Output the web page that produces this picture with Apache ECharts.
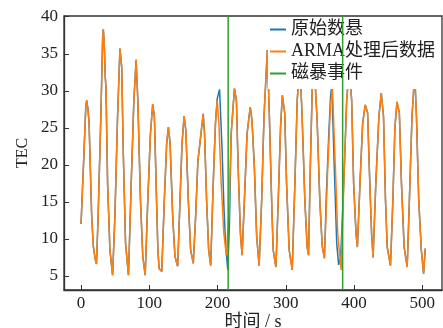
<!DOCTYPE html>
<html><head><meta charset="utf-8">
<script src="https://cdn.jsdelivr.net/npm/echarts@6/dist/echarts.min.js"></script>
<style>html,body{margin:0;padding:0;background:#fff}#c{width:443px;height:328px}</style>
</head><body><div id="c"></div>
<script>
// ARMA processed series (time, TEC)
const armaT = [0,4,7,8.3,10,11.7,15.6,18,20.5,22.6,
 25,29,31.7,32.6,34,35.5,36.5,38.9,42.3,46.2,
 49.6,53.5,57,59.6,61.8,65.2,69.5,
 73.5,77.4,80.7,83.2,87.1,90.5,94,
 97.8,101.7,105,107.5,110,112.6,114.4,118.3,
 122,125.5,128,130.5,134.3,137.7,141.6,
 145,148,151,153.6,157.2,160.6,164.5,
 167.9,171.3,174.2,179,181,184,187,190,
 193.7,197,199.5,202,205.4,209.3,213,
 216.5,220,224.8,227.7,230.2,233.6,236,
 239.4,243.3,248,250.5,254,257.4,261,
 264.7,268.1,273,276,279.3,281.6,285.6,
 289,292.4,295,298.5,301.2,305,309.5,
 313.4,316.8,320.7,324,328,331.4,333.4,
 336,339,342,346,350,353.5,356.7,
 361.6,365.5,368.4,372.7,376.2,381,
 385.9,389.3,393,396.6,399.5,403,405,
 408.8,412.7,416.5,420,422.4,425.8,428,
 432,436.5,440,443.3,446.2,448.7,453.5,
 457,460,463,466.5,469.6,473.5,478,
 481.2,485,489,491.6,494.9,498.7,502,504.5];
const armaV = [12.0,21,28,28.7,27.6,25.8,13,9,7.4,6.6,
 13,26.5,37.3,38.3,36.4,31.8,30.5,17.5,8.5,5.1,
 13,26.5,35.7,33.2,22,9.4,5.1,
 17.5,28.7,34.2,28.7,15.2,7.6,5.1,
 15.2,24.2,28.2,26.5,17.5,8.5,6.0,5.6,
 15.2,22.9,25.1,22.9,13,7.6,6.3,
 15.2,22.9,26.6,24.6,15.2,8.5,6.7,
 13,20.6,22.9,26.9,24.2,15.2,8.5,6.4,
 17.5,25.6,28.7,25.6,17.5,10.7,7.8,
 13,24.2,30.3,28.7,19.7,10.7,7.8,
 15.2,24.2,27.8,26,19.7,10.3,6.4,
 15.2,26.5,35.5,26.5,15.2,8.5,6.2,
 15.2,25.1,29.4,27,17.5,8.5,5.8,
 17.5,28.7,33.7,26.5,15.2,8.9,7.8,
 19.7,31,33,26,15,9,7.4,
 19.7,28,30.4,19.7,10.7,5.8,
 19.7,28.7,33,28.7,17.5,10.7,8.9,
 17.5,25.6,28.1,27,19.7,10.7,7.5,
 17.5,26.5,29.7,26.5,15.2,8.9,6.4,
 15.2,25.1,28.5,27,17.5,8.9,6.2,
 15.2,26.5,32.3,26.5,15.2,8.5,5.3,8.7];

// Raw data where it differs from the ARMA result (storm windows)
const rawWin1 = [198, 219];
const rawWin1T = [199.5,203,206.7,209.5,212,215,217.5];
const rawWin1V = [28.9,30.2,22,14,9,5.8,12];
const rawWin2 = [357.5, 385];
const rawWin2T = [359.5,363,365.5,367.5,371,374.7,377.5,380.5,383.5];
const rawWin2V = [16,24,29,30.8,20,9.4,6.5,7.5,14];

// Storm event times
const stormT = [215.6, 383.4];

const xTicks = [0,100,200,300,400,500];
const yTicks = [5,10,15,20,25,30,35,40];
const xMin = -25, xMax = 529, yMin = 3.1, yMax = 40.1;

const arma = armaT.map((t,i)=>[t, armaV[i]]);
let raw = arma.filter(p => !((p[0]>rawWin1[0] && p[0]<rawWin1[1]) || (p[0]>rawWin2[0] && p[0]<rawWin2[1])));
rawWin1T.forEach((t,i)=>raw.push([t, rawWin1V[i]]));
rawWin2T.forEach((t,i)=>raw.push([t, rawWin2V[i]]));
raw.sort((a,b)=>a[0]-b[0]);

const storm = [];
stormT.forEach((t,i)=>{ if(i>0) storm.push([t,'-']); storm.push([t,yMin]); storm.push([t,yMax]); });

const FONT = '"Liberation Serif", "Times New Roman", "Noto Sans CJK SC", serif';
const chart = echarts.init(document.getElementById('c'), null, {renderer:'canvas'});
chart.setOption({
  animation:false,
  backgroundColor:'#fff',
  grid:{left:64, top:16, right:1, bottom:38, show:true, borderColor:'#333', borderWidth:1.3,
    containLabel:false, outerBoundsMode:'none'},
  xAxis:{type:'value', min:xMin, max:xMax,
    axisLine:{show:true, onZero:false, lineStyle:{color:'#333', width:1.3}},
    splitLine:{show:false},
    axisTick:{show:true, inside:true, length:5, customValues:xTicks, lineStyle:{color:'#333'}},
    axisLabel:{customValues:xTicks, margin:5, fontSize:17, color:'#222', fontFamily:FONT},
    name:'时间 / s', nameLocation:'middle', nameGap:23, nameMoveOverlap:false,
    nameTextStyle:{fontSize:18, color:'#222', fontFamily:FONT}},
  yAxis:{type:'value', min:yMin, max:yMax,
    axisLine:{show:true, onZero:false, lineStyle:{color:'#333', width:1.3}},
    splitLine:{show:false},
    axisTick:{show:true, inside:true, length:5, customValues:yTicks, lineStyle:{color:'#333'}},
    axisLabel:{customValues:yTicks, margin:6, fontSize:17, color:'#222', fontFamily:FONT},
    name:'TEC', nameLocation:'middle', nameGap:33, nameMoveOverlap:false,
    nameTextStyle:{fontSize:16, color:'#222', fontFamily:FONT}},
  legend:{orient:'vertical', left:268, top:17, icon:'rect', itemWidth:16, itemHeight:2,
    itemGap:3, padding:[3,2,6,2], backgroundColor:'#fff',
    textStyle:{fontSize:18, color:'#222', fontFamily:FONT, lineHeight:19},
    data:['原始数悬','ARMA处理后数据','磁暴事件']},
  series:[
    {name:'原始数悬', type:'line', data:raw, showSymbol:false, symbol:'none', z:2,
     lineStyle:{color:'#1f77b4', width:1.5}, itemStyle:{color:'#1f77b4'}},
    {name:'ARMA处理后数据', type:'line', data:arma, showSymbol:false, symbol:'none', z:3,
     lineStyle:{color:'#ff7f0e', width:1.5}, itemStyle:{color:'#ff7f0e'}},
    {name:'磁暴事件', type:'line', data:storm, showSymbol:false, symbol:'none', z:4, connectNulls:false,
     lineStyle:{color:'#2ca02c', width:1.5}, itemStyle:{color:'#2ca02c'}}
  ]
});
</script></body></html>
